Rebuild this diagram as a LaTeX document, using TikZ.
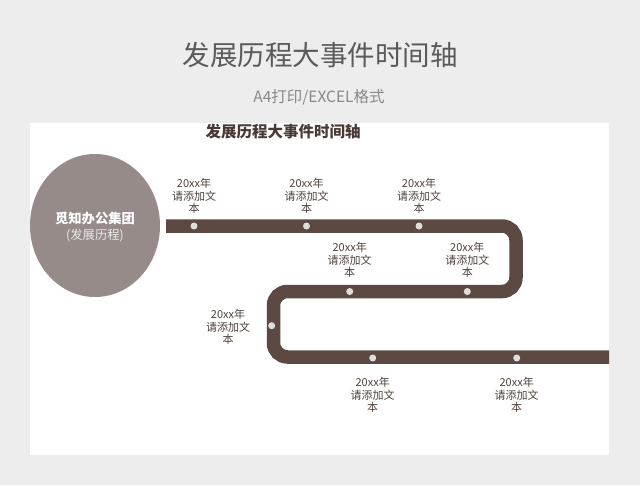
\documentclass[tikz,border=0pt]{standalone}
\usepackage{fontspec}
\setmainfont{Noto Sans CJK SC}
\usetikzlibrary{shapes.geometric}
\begin{document}
\begin{tikzpicture}[x=1pt,y=-1pt,
  trackcol/.style={draw=track,line width=13.5pt,rounded corners=14pt},
  dotstyle/.style={circle,fill=dotc,minimum size=7pt,inner sep=0pt},
  lbl/.style={align=center,text=lblc,inner sep=0pt,font=\fontsize{11}{12.7}\selectfont},
]
\definecolor{bg}{HTML}{EDEDED}
\definecolor{track}{HTML}{5C4A42}
\definecolor{circ}{HTML}{968B89}
\definecolor{dotc}{HTML}{DEDEDE}
\definecolor{lblc}{HTML}{4E423D}
\definecolor{titc}{HTML}{5A5A5A}
\definecolor{subc}{HTML}{888888}
\definecolor{ptit}{HTML}{4A3A35}
\useasboundingbox (0,0) rectangle (640,485);
\fill[bg] (0,0) rectangle (640,485);
\fill[white] (30,123) rectangle (609,455);
% titles
\node[text=titc,font=\fontsize{27.5}{30}\selectfont] (title) at (320,55) {发展历程大事件时间轴};
\node[text=subc,font=\fontsize{15.5}{18}\selectfont] (sub) at (319,97) {A4打印/EXCEL格式};
\node[text=ptit,font=\fontsize{15.5}{18}\selectfont\bfseries] (ptitle) at (283,132) {发展历程大事件时间轴};
% circle
\node[ellipse,fill=circ,minimum width=130pt,minimum height=143pt,inner sep=0pt] (org) at (95,225.5) {};
\node[text=white,font=\fontsize{13.3}{15}\selectfont\bfseries] (orgname) at (95,218) {觅知办公集团};
\node[text=white!92!black,font=\fontsize{12.3}{14}\selectfont] (orgsub) at (95,235.5) {(发展历程)};
% track
\coordinate (s) at (166,226);
\coordinate (c1) at (516,226);
\coordinate (c2) at (516,291.5);
\coordinate (c3) at (273.5,291.5);
\coordinate (c4) at (273.5,357);
\coordinate (e) at (609,357);
\draw[trackcol] (s) -- (c1) -- (c2) -- (c3) -- (c4) -- (e);
% dots
\node[dotstyle] (d1) at (194,226) {};
\node[dotstyle] (d2) at (306.5,226) {};
\node[dotstyle] (d3) at (419,226) {};
\node[dotstyle] (d4) at (349.7,291.5) {};
\node[dotstyle] (d5) at (467.3,291.5) {};
\node[dotstyle] (d6) at (271.7,325.7) {};
\node[dotstyle] (d7) at (372.7,358) {};
\node[dotstyle] (d8) at (516.7,358) {};
% labels
\node[lbl] (l1) at (194,196) {20xx年\\请添加文\\本};
\node[lbl] (l2) at (306.5,196) {20xx年\\请添加文\\本};
\node[lbl] (l3) at (419,196) {20xx年\\请添加文\\本};
\node[lbl] (l4) at (349.7,260) {20xx年\\请添加文\\本};
\node[lbl] (l5) at (467.3,260) {20xx年\\请添加文\\本};
\node[lbl] (l6) at (228,327) {20xx年\\请添加文\\本};
\node[lbl] (l7) at (372.7,395) {20xx年\\请添加文\\本};
\node[lbl] (l8) at (516.7,395) {20xx年\\请添加文\\本};
\end{tikzpicture}
\end{document}
